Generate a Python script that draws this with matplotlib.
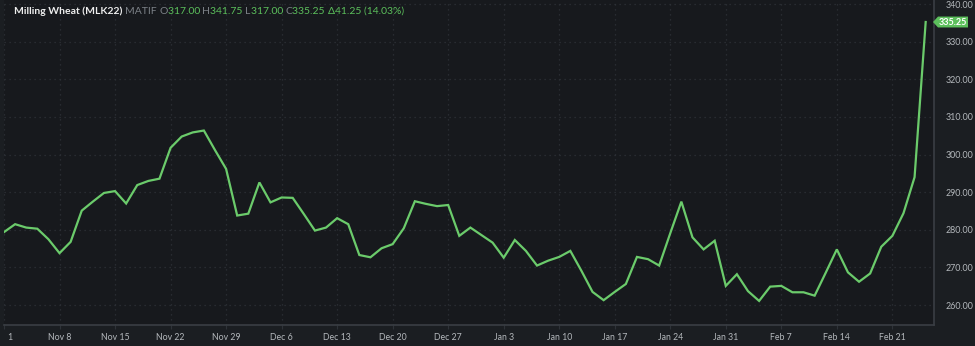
import numpy as np
import pandas as pd
import matplotlib
matplotlib.use("Agg")
import matplotlib.pyplot as plt
from matplotlib.patches import Polygon
import matplotlib.transforms as mtransforms

# daily closes, Milling Wheat (MLK22), Nov 1 2021 - Feb 24 2022 (trading days)
dates = pd.bdate_range("2021-11-01", "2022-02-24")
closes = [279.4, 281.5, 280.6, 280.3, 277.5, 273.8, 276.8, 285.1, 287.5, 289.8,
          290.3, 287.0, 291.9, 293.0, 293.6, 301.8, 304.8, 305.9, 306.4, 301.2,
          296.2, 283.8, 284.3, 292.6, 287.3, 288.6, 288.5, 284.2, 279.8, 280.6,
          283.1, 281.5, 273.3, 272.7, 275.1, 276.2, 280.4, 287.6, 286.9, 286.3,
          286.6, 278.4, 280.6, 278.6, 276.6, 272.6, 277.3, 274.4, 270.5, 271.8,
          272.8, 274.4, 269.1, 263.5, 261.3, 263.5, 265.6, 272.8, 272.2, 270.5,
          279.1, 287.5, 278.0, 274.8, 277.1, 265.1, 268.2, 263.7, 261.1, 264.9,
          265.1, 263.4, 263.4, 262.5, 268.6, 274.8, 268.7, 266.2, 268.4, 275.5,
          278.4, 284.4, 294.0, 335.25]
yticks = [260, 270, 280, 290, 300, 310, 320, 330, 340]
title_parts = [("Milling Wheat (MLK22) ", "w"), ("MATIF ", "g"),
               ("O", "g"), ("317.00 ", "c"), ("H", "g"), ("341.75 ", "c"),
               ("L", "g"), ("317.00 ", "c"), ("C", "g"), ("335.25 ", "c"),
               ("\u039441.25 (14.03%)", "c")]
last = closes[-1]

bg = "#17191d"
grid_c = "#2e3238"
txt_c = "#b4b8bc"
green = "#6bcb6b"
fonts = ["Lato", "DejaVu Sans"]
plt.rcParams["font.family"] = fonts

x = np.arange(len(dates))

fig = plt.figure(figsize=(9.75, 3.46), dpi=100, facecolor="#1b1e22")
ax = fig.add_axes([4 / 975, 21 / 346, 930 / 975, 325 / 346])
ax.set_facecolor(bg)
ax.plot(x, closes, color=green, lw=1.6, solid_joinstyle="miter")

ax.set_xlim(0.31, 83.75)
ax.set_ylim(254.7, 341.1)

tick_idx = list(range(0, len(dates), 5))
labels = [f"{dates[i]:%b} {dates[i].day}" for i in tick_idx]
labels[0] = str(dates[0].day)  # month part falls off the left edge
ax.set_xticks(tick_idx)
ax.set_xticklabels(labels)
ax.set_yticks(yticks)
ax.set_yticklabels([f"{v:.2f}" for v in yticks])
ax.yaxis.tick_right()
ax.tick_params(axis="x", colors=grid_c, labelcolor=txt_c, labelsize=6.3,
               length=3, pad=3)
ax.tick_params(axis="y", length=0, labelcolor=txt_c, labelsize=6.4, pad=8)
ax.grid(True, color=grid_c, lw=0.9, ls=(0, (1, 3)))
for s in ["top", "left"]:
    ax.spines[s].set_visible(False)
for s in ["right", "bottom"]:
    ax.spines[s].set_color("#3a3e44")
    ax.spines[s].set_linewidth(1.2)

lab0 = ax.get_xticklabels()[0]
lab0.set_transform(lab0.get_transform() +
                   mtransforms.ScaledTranslation(6 / 100, 0, fig.dpi_scale_trans))

# last price tag on the price scale
tr = mtransforms.blended_transform_factory(fig.transFigure, ax.transData)
h = 1.45
tag = Polygon([(933 / 975, last), (938 / 975, last + h), (968 / 975, last + h),
               (968 / 975, last - h), (938 / 975, last - h)],
              closed=True, transform=tr, facecolor="#5cbf5c", edgecolor="none",
              clip_on=False, zorder=5)
fig.patches.append(tag)
fig.text(953 / 975, last, f"{last:.2f}", transform=tr, color="white",
         fontsize=6.5, fontweight="bold", ha="center", va="center", zorder=6)

# header line
colors = {"w": "#eeeeee", "g": "#7d8288", "c": "#5cc05c"}
fig.canvas.draw()
r = fig.canvas.get_renderer()
xpos = 14
for s, c in title_parts:
    t = fig.text(xpos / 975, 1 - 11 / 346, s, color=colors[c], fontsize=7.5,
                 va="center", ha="left",
                 fontweight="bold" if c == "w" else "normal")
    bb = t.get_window_extent(renderer=r)
    xpos += bb.width

fig.savefig("out.png", dpi=100, facecolor=fig.get_facecolor())
